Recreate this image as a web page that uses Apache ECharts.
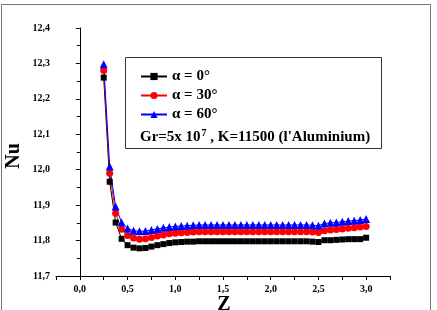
<!DOCTYPE html>
<html>
<head>
<meta charset="utf-8">
<script src="https://cdn.jsdelivr.net/npm/echarts@6/dist/echarts.min.js"></script>
<style>
html,body{margin:0;padding:0;background:#fff;}
#chart{width:437px;height:310px;}
</style>
</head>
<body>
<div id="chart"></div>
<script>
var zValues = [0.25,0.3125,0.375,0.4375,0.5,0.5625,0.625,0.6875,0.75,0.8125,0.875,0.9375,1.0,1.0625,1.125,1.1875,1.25,1.3125,1.375,1.4375,1.5,1.5625,1.625,1.6875,1.75,1.8125,1.875,1.9375,2.0,2.0625,2.125,2.1875,2.25,2.3125,2.375,2.4375,2.5,2.5625,2.625,2.6875,2.75,2.8125,2.875,2.9375,3.0];
var nuAlpha0 = [12.260,11.966,11.851,11.805,11.787,11.780,11.778,11.779,11.783,11.787,11.790,11.793,11.795,11.796,11.797,11.797,11.798,11.798,11.798,11.798,11.798,11.798,11.798,11.798,11.798,11.798,11.798,11.798,11.798,11.798,11.798,11.798,11.798,11.798,11.798,11.797,11.796,11.801,11.801,11.802,11.803,11.804,11.804,11.804,11.808];
var nuAlpha30 = [12.280,11.990,11.877,11.832,11.814,11.807,11.804,11.805,11.809,11.813,11.816,11.819,11.821,11.822,11.823,11.824,11.825,11.825,11.825,11.825,11.825,11.825,11.825,11.825,11.825,11.825,11.825,11.825,11.825,11.825,11.825,11.825,11.825,11.825,11.825,11.824,11.823,11.828,11.830,11.831,11.833,11.835,11.836,11.838,11.840];
var nuAlpha60 = [12.298,12.009,11.896,11.851,11.834,11.828,11.826,11.827,11.830,11.833,11.836,11.838,11.840,11.841,11.842,11.843,11.844,11.844,11.844,11.844,11.844,11.844,11.844,11.844,11.844,11.844,11.844,11.844,11.844,11.844,11.844,11.844,11.844,11.844,11.844,11.843,11.842,11.848,11.850,11.851,11.853,11.855,11.856,11.858,11.861];
var seriesNames = ['\u03b1 = 0\u00b0','\u03b1 = 30\u00b0','\u03b1 = 60\u00b0'];
var noteText = ['Gr=5x 10', '7', ' , K=11500 (l\'Aluminium)'];
var yTicks = ['11,7','11,8','11,9','12,0','12,1','12,2','12,3','12,4'];

function pairs(ys){ return zValues.map(function(x,i){ return [x, ys[i]]; }); }
var FONT = '"Liberation Serif","Times New Roman",serif';
var chart = echarts.init(document.getElementById('chart'), null, {renderer:'canvas'});
var axisCommon = {
  axisLine:{show:true,lineStyle:{color:'#000',width:1}},
  splitLine:{show:false},
  axisLabel:{color:'#000',fontFamily:FONT,fontWeight:'bold',fontSize:10}
};
function mk(name, data, symbol, size, color){
  return {name:name,type:'line',data:pairs(data),symbol:symbol,symbolSize:size,
    lineStyle:{color:color,width:1},itemStyle:{color:color},animation:false,z:2};
}
chart.setOption({
  animation:false,
  grid:{left:56,right:47,top:28,bottom:34},
  xAxis:Object.assign({}, axisCommon, {
    type:'value',min:-0.25,max:3.25,interval:0.25,
    axisTick:{show:true,inside:false,length:4,lineStyle:{color:'#000'}},
    axisLabel:Object.assign({}, axisCommon.axisLabel, {margin:8,showMinLabel:true,showMaxLabel:true,
      formatter:function(v){ var r=Math.round(v*4); if(r%2!==0) return ''; return (r/4).toFixed(1).replace('.',','); }})
  }),
  yAxis:Object.assign({}, axisCommon, {
    type:'value',min:11.7,max:12.4,interval:0.1,
    axisTick:{show:true,inside:false,length:4,lineStyle:{color:'#000'}},
    minorTick:{show:true,splitNumber:2,length:3,lineStyle:{color:'#000'}},
    axisLabel:Object.assign({}, axisCommon.axisLabel, {margin:6,
      formatter:function(v){ var i=Math.round((v-11.7)*10); return yTicks[i]; }})
  }),
  legend:{
    orient:'vertical',left:140,top:69,padding:0,itemGap:4,
    itemWidth:26,itemHeight:9,
    textStyle:{fontFamily:FONT,fontWeight:'bold',fontSize:15,lineHeight:15,color:'#000',padding:[0,0,0,0]},
    data:seriesNames
  },
  series:[
    mk(seriesNames[0], nuAlpha0, 'rect', 6, '#000000'),
    mk(seriesNames[1], nuAlpha30, 'circle', 7, '#ff0000'),
    mk(seriesNames[2], nuAlpha60, 'triangle', 8, '#0000ff')
  ],
  graphic:[
    {type:'rect',shape:{x:1.5,y:4.5,width:429,height:320},style:{fill:'none',stroke:'#777',lineWidth:1},silent:true},
    {type:'rect',shape:{x:125.5,y:57.5,width:256,height:91},style:{fill:'none',stroke:'#333',lineWidth:1},silent:true},
    {type:'text',x:140,y:137,style:{
      text:'{a|'+noteText[0]+'}{s|'+noteText[1]+'}{a|'+noteText[2]+'}',
      verticalAlign:'middle',
      rich:{
        a:{fontFamily:FONT,fontWeight:'bold',fontSize:15,fill:'#000'},
        s:{fontFamily:FONT,fontWeight:'bold',fontSize:10,fill:'#000',verticalAlign:'top',padding:[0,0,8,1]}
      }}},
    {type:'text',x:14,y:156,rotation:Math.PI/2,style:{text:'Nu',fontFamily:FONT,fontWeight:'bold',fontSize:20,fill:'#000',align:'center',verticalAlign:'middle'}},
    {type:'text',x:224,y:305,style:{text:'Z',fontFamily:FONT,fontWeight:'bold',fontSize:20,fill:'#000',align:'center',verticalAlign:'middle'}}
  ]
});
</script>
</body>
</html>
